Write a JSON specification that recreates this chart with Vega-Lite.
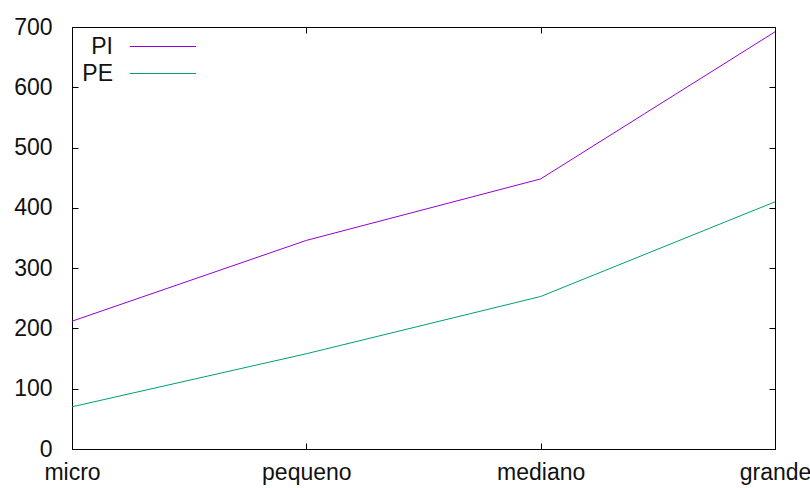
{
  "$schema": "https://vega.github.io/schema/vega-lite/v6.json",
  "width": 703,
  "height": 422,
  "autosize": {"type": "none"},
  "padding": {"left": 72, "top": 27, "right": 35, "bottom": 39},
  "background": "white",
  "config": {
    "view": {"stroke": "#000", "strokeWidth": 1},
    "font": "Liberation Sans",
    "axis": {
      "grid": false,
      "domain": false,
      "tickColor": "#000",
      "tickSize": -6,
      "tickWidth": 1,
      "labelFont": "Liberation Sans",
      "labelFontSize": 23,
      "labelColor": "#111",
      "title": null
    }
  },
  "data": {
    "values": [
      {"categoria": "micro", "serie": "PI", "valor": 212},
      {"categoria": "pequeno", "serie": "PI", "valor": 346},
      {"categoria": "mediano", "serie": "PI", "valor": 448},
      {"categoria": "grande", "serie": "PI", "valor": 692},
      {"categoria": "micro", "serie": "PE", "valor": 70},
      {"categoria": "pequeno", "serie": "PE", "valor": 158},
      {"categoria": "mediano", "serie": "PE", "valor": 253},
      {"categoria": "grande", "serie": "PE", "valor": 410}
    ]
  },
  "layer": [
    {
      "mark": {"type": "line", "strokeWidth": 1},
      "encoding": {
        "x": {
          "field": "categoria", "type": "ordinal",
          "sort": ["micro", "pequeno", "mediano", "grande"],
          "scale": {"type": "point", "padding": 0},
          "axis": {"orient": "bottom", "labelAngle": 0, "labelPadding": 18, "labelAlign": "center"}
        },
        "y": {
          "field": "valor", "type": "quantitative",
          "scale": {"domain": [0, 700], "nice": false},
          "axis": {"orient": "left", "values": [0, 100, 200, 300, 400, 500, 600, 700], "labelPadding": 26}
        },
        "color": {
          "field": "serie", "type": "nominal",
          "scale": {"domain": ["PI", "PE"], "range": ["#9400d3", "#009e73"]},
          "legend": {
            "orient": "none", "legendX": 79.5, "legendY": 8,
            "title": null, "padding": 0,
            "symbolType": "M-6,0H6", "symbolSize": 121, "symbolStrokeWidth": 1,
            "labelAlign": "right", "labelOffset": -61.5,
            "labelFontSize": 23, "labelFont": "Liberation Sans", "labelColor": "#111",
            "rowPadding": 3
          }
        }
      }
    },
    {
      "mark": {"type": "line", "strokeWidth": 1, "opacity": 0},
      "encoding": {
        "x": {
          "field": "categoria", "type": "ordinal",
          "sort": ["micro", "pequeno", "mediano", "grande"],
          "scale": {"type": "point", "padding": 0},
          "axis": {"orient": "top", "labels": false}
        },
        "y": {
          "field": "valor", "type": "quantitative",
          "scale": {"domain": [0, 700], "nice": false},
          "axis": {"orient": "right", "labels": false, "values": [0, 100, 200, 300, 400, 500, 600, 700]}
        },
        "detail": {"field": "serie", "type": "nominal"}
      }
    }
  ],
  "resolve": {"axis": {"x": "independent", "y": "independent"}}
}
